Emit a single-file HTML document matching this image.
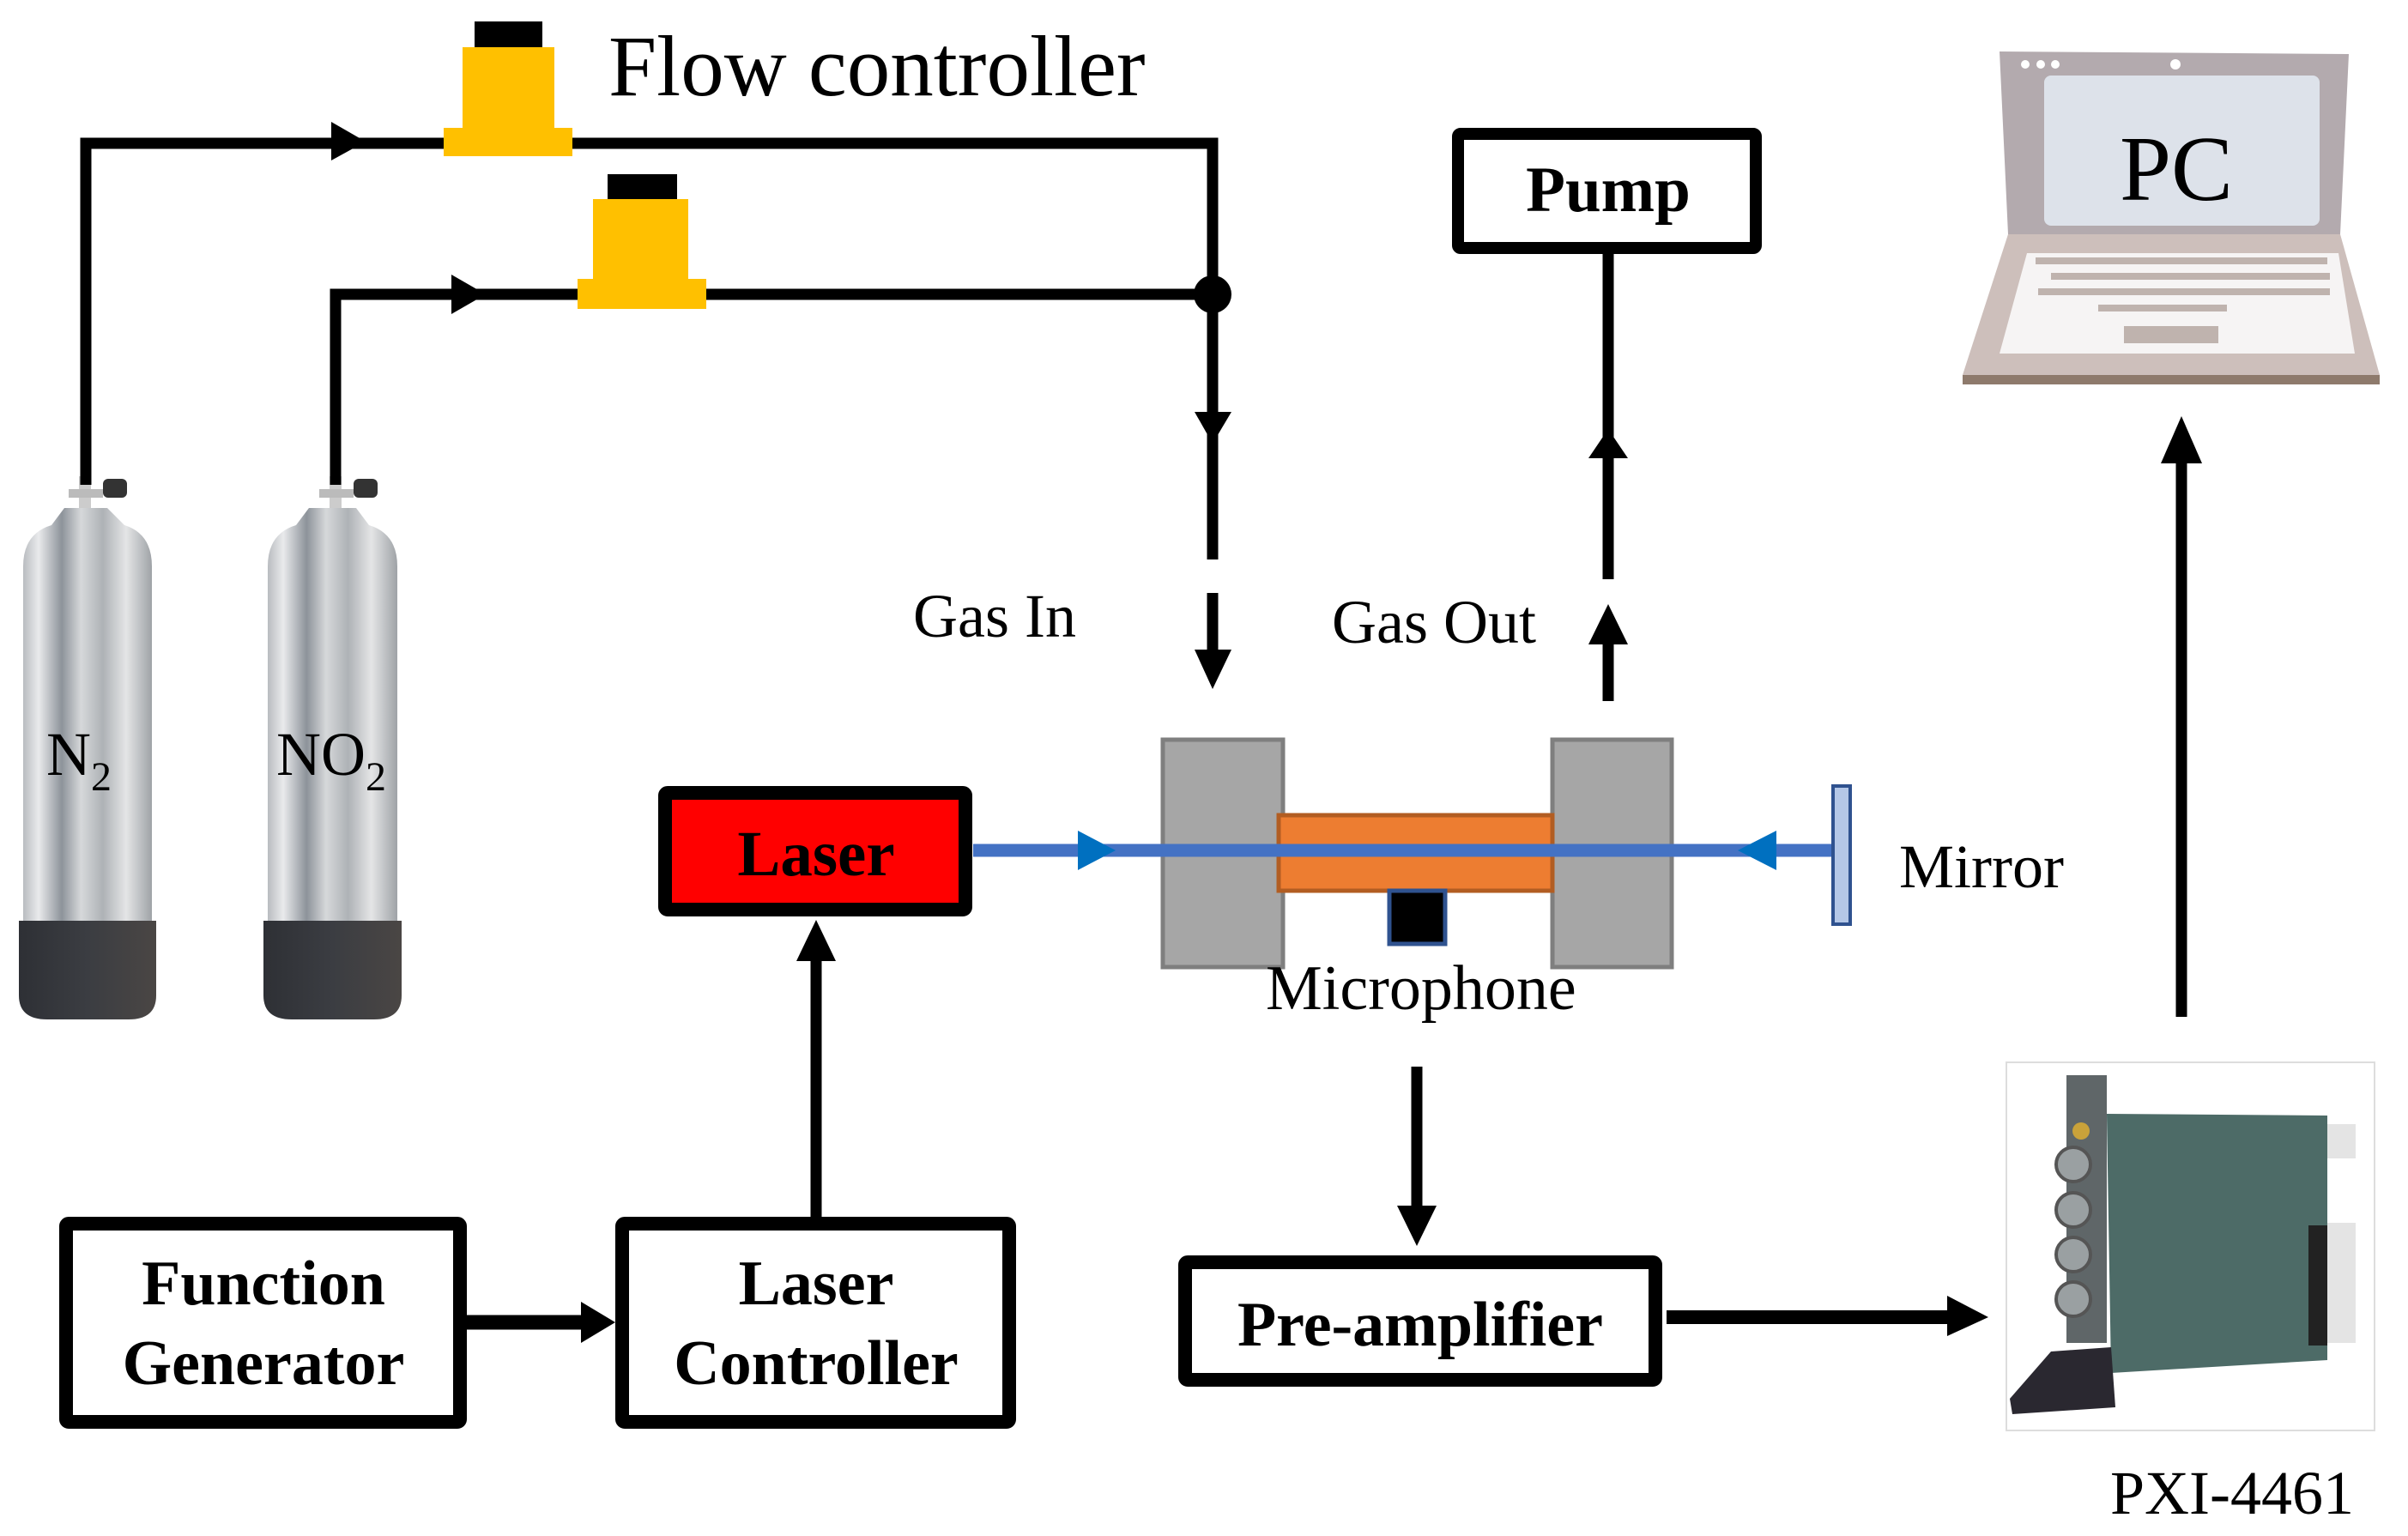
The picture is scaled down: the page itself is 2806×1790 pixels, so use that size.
<!DOCTYPE html>
<html><head><meta charset="utf-8"><style>
html,body{margin:0;padding:0;background:#fff;}
svg{display:block;}
text{font-family:"Liberation Serif","Times New Roman",serif;fill:#000;}
.b{font-weight:bold;}
</style></head><body>
<svg width="2806" height="1790" viewBox="0 0 2806 1790" xmlns="http://www.w3.org/2000/svg">
<defs>
<linearGradient id="cyl" x1="0" x2="1" y1="0" y2="0">
<stop offset="0" stop-color="#b9bcc0"/><stop offset="0.12" stop-color="#e9eaec"/>
<stop offset="0.3" stop-color="#8d939a"/><stop offset="0.45" stop-color="#d6d8da"/>
<stop offset="0.62" stop-color="#aeb2b6"/><stop offset="0.8" stop-color="#e4e5e6"/>
<stop offset="1" stop-color="#9fa3a7"/></linearGradient>
<linearGradient id="base" x1="0" x2="1"><stop offset="0" stop-color="#2e3035"/><stop offset="0.5" stop-color="#3b3d42"/><stop offset="1" stop-color="#4a4644"/></linearGradient>
</defs>

<!-- cylinders -->
<g>
<rect x="92" y="555" width="14" height="45" fill="#ccc"/>
<rect x="80" y="570" width="40" height="10" fill="#bbb"/>
<rect x="120" y="558" width="28" height="22" rx="6" fill="#333"/>
<path d="M27 660 Q27 622 60 612 L75 592 L125 592 L145 612 Q177 622 177 660 L177 1080 L27 1080 Z" fill="url(#cyl)"/>
<path d="M22 1073 L182 1073 L182 1160 Q182 1188 150 1188 L55 1188 Q22 1188 22 1160 Z" fill="url(#base)"/>
<text x="54" y="903" font-size="72">N<tspan font-size="48" dy="18">2</tspan></text>
</g>
<g>
<rect x="384" y="555" width="14" height="45" fill="#ccc"/>
<rect x="372" y="570" width="40" height="10" fill="#bbb"/>
<rect x="412" y="558" width="28" height="22" rx="6" fill="#333"/>
<path d="M312 660 Q312 622 345 612 L360 592 L415 592 L430 612 Q463 622 463 660 L463 1080 L312 1080 Z" fill="url(#cyl)"/>
<path d="M307 1073 L468 1073 L468 1160 Q468 1188 436 1188 L340 1188 Q307 1188 307 1160 Z" fill="url(#base)"/>
<text x="322" y="903" font-size="72">NO<tspan font-size="48" dy="18">2</tspan></text>
</g>

<!-- gas lines -->
<g fill="none" stroke="#000" stroke-width="13">
<polyline points="100,565 100,167 1413,167 1413,652"/>
<polyline points="391,565 391,343 1413,343"/>
<line x1="1413" y1="691" x2="1413" y2="765"/>
<line x1="1874" y1="295" x2="1874" y2="675"/>
<line x1="1874" y1="740" x2="1874" y2="817"/>
<line x1="951" y1="1427" x2="951" y2="1120"/>
<line x1="1651" y1="1243" x2="1651" y2="1410"/>
<line x1="2542" y1="1185" x2="2542" y2="540"/>
</g>
<line x1="544" y1="1541" x2="680" y2="1541" stroke="#000" stroke-width="17"/>
<line x1="1942" y1="1535" x2="2275" y2="1535" stroke="#000" stroke-width="16"/>
<circle cx="1413" cy="343" r="22" fill="#000"/>
<g fill="#000">
<polygon points="386,142 426,165 386,187"/>
<polygon points="526,320 566,343 526,366"/>
<polygon points="1392,480 1435,480 1413,517"/>
<polygon points="1392,757 1435,757 1413,803"/>
<polygon points="1851,534 1897,534 1874,500"/>
<polygon points="1851,751 1897,751 1874,704"/>
<polygon points="928,1120 974,1120 951,1072"/>
<polygon points="677,1517 717,1541 677,1565"/>
<polygon points="1628,1405 1674,1405 1651,1452"/>
<polygon points="2269,1510 2317,1535 2269,1557"/>
<polygon points="2518,540 2566,540 2542,485"/>
</g>

<!-- flow controllers -->
<rect x="553" y="25" width="79" height="34" fill="#000"/>
<rect x="539" y="55" width="107" height="96" fill="#ffc000"/>
<rect x="517" y="149" width="150" height="33" fill="#ffc000"/>
<rect x="708" y="203" width="81" height="33" fill="#000"/>
<rect x="691" y="232" width="111" height="95" fill="#ffc000"/>
<rect x="673" y="325" width="150" height="35" fill="#ffc000"/>
<text x="709" y="111" font-size="101">Flow controller</text>

<text x="1064" y="742" font-size="72">Gas In</text>
<text x="1552" y="749" font-size="72">Gas Out</text>

<!-- pump -->
<rect x="1699" y="156" width="347" height="133" fill="#fff" stroke="#000" stroke-width="14" rx="3"/>
<text x="1874" y="246" font-size="75" class="b" text-anchor="middle">Pump</text>

<!-- cell -->
<rect x="1355" y="862" width="140" height="265" fill="#a6a6a6" stroke="#7f7f7f" stroke-width="5"/>
<rect x="1809" y="862" width="139" height="265" fill="#a6a6a6" stroke="#7f7f7f" stroke-width="5"/>
<rect x="1490" y="950" width="319" height="88" fill="#ed7d31" stroke="#b25d22" stroke-width="5"/>
<rect x="1619" y="1038" width="65" height="62" fill="#000" stroke="#2f528f" stroke-width="5"/>
<line x1="1134" y1="991" x2="2138" y2="991" stroke="#4472c4" stroke-width="15"/>
<polygon points="1256,968 1300,991 1256,1014" fill="#0070c0"/>
<polygon points="2070,968 2025,991 2070,1014" fill="#0070c0"/>
<rect x="2136" y="916" width="20" height="161" fill="#b4c7e7" stroke="#2f528f" stroke-width="4"/>
<text x="1475" y="1176" font-size="74">Microphone</text>
<text x="2213" y="1034" font-size="72">Mirror</text>

<!-- laser -->
<rect x="775" y="924" width="350" height="136" fill="#ff0000" stroke="#000" stroke-width="16" rx="3"/>
<text x="951" y="1020" font-size="75" class="b" text-anchor="middle">Laser</text>

<!-- bottom boxes -->
<rect x="77" y="1426" width="459" height="231" fill="#fff" stroke="#000" stroke-width="16" rx="3"/>
<text x="307" y="1520" font-size="74" class="b" text-anchor="middle">Function</text>
<text x="307" y="1613" font-size="74" class="b" text-anchor="middle">Generator</text>
<rect x="725" y="1426" width="451" height="231" fill="#fff" stroke="#000" stroke-width="16" rx="3"/>
<text x="951" y="1520" font-size="74" class="b" text-anchor="middle">Laser</text>
<text x="951" y="1613" font-size="74" class="b" text-anchor="middle">Controller</text>
<rect x="1381" y="1471" width="548" height="137" fill="#fff" stroke="#000" stroke-width="16" rx="3"/>
<text x="1655" y="1568" font-size="74" class="b" text-anchor="middle">Pre-amplifier</text>

<!-- PC laptop -->
<polygon points="2330,60 2737,63 2727,273 2340,273" fill="#b3aaae"/>
<rect x="2382" y="88" width="321" height="175" rx="8" fill="#dde2ea"/>
<circle cx="2360" cy="75" r="5" fill="#fff"/><circle cx="2378" cy="75" r="5" fill="#fff"/><circle cx="2395" cy="75" r="5" fill="#fff"/>
<circle cx="2535" cy="75" r="6" fill="#fff"/>
<polygon points="2340,273 2727,273 2773,437 2287,437" fill="#cdbfbb"/>
<polygon points="2362,295 2725,295 2744,412 2330,412" fill="#f6f4f4"/>
<g fill="#bfb3ae">
<rect x="2372" y="300" width="340" height="8"/>
<rect x="2390" y="318" width="325" height="8"/>
<rect x="2375" y="336" width="340" height="8"/>
<rect x="2445" y="355" width="150" height="8"/>
<rect x="2475" y="380" width="110" height="20"/>
</g>
<rect x="2287" y="437" width="486" height="11" fill="#8e7a6c"/>
<text x="2536" y="233" font-size="108" text-anchor="middle">PC</text>

<!-- PXI -->
<rect x="2338" y="1238" width="429" height="429" fill="#fff" stroke="#ddd" stroke-width="2"/>
<polygon points="2455,1298 2712,1300 2712,1585 2460,1600" fill="#4d6b67"/>
<rect x="2712" y="1310" width="33" height="40" fill="#e4e4e4"/>
<rect x="2712" y="1425" width="33" height="140" fill="#e4e4e4"/>
<rect x="2690" y="1428" width="22" height="140" fill="#222"/>
<rect x="2408" y="1253" width="47" height="312" fill="#5f6668"/>
<g fill="#9aa0a2" stroke="#555" stroke-width="4">
<circle cx="2416" cy="1357" r="20"/><circle cx="2416" cy="1410" r="20"/><circle cx="2416" cy="1462" r="20"/><circle cx="2416" cy="1514" r="20"/>
</g>
<circle cx="2425" cy="1318" r="10" fill="#c9a23a"/>
<polygon points="2390,1575 2460,1570 2465,1640 2345,1648 2342,1630" fill="#2a2830"/>
<text x="2459" y="1764" font-size="72">PXI-4461</text>
</svg>
</body></html>
